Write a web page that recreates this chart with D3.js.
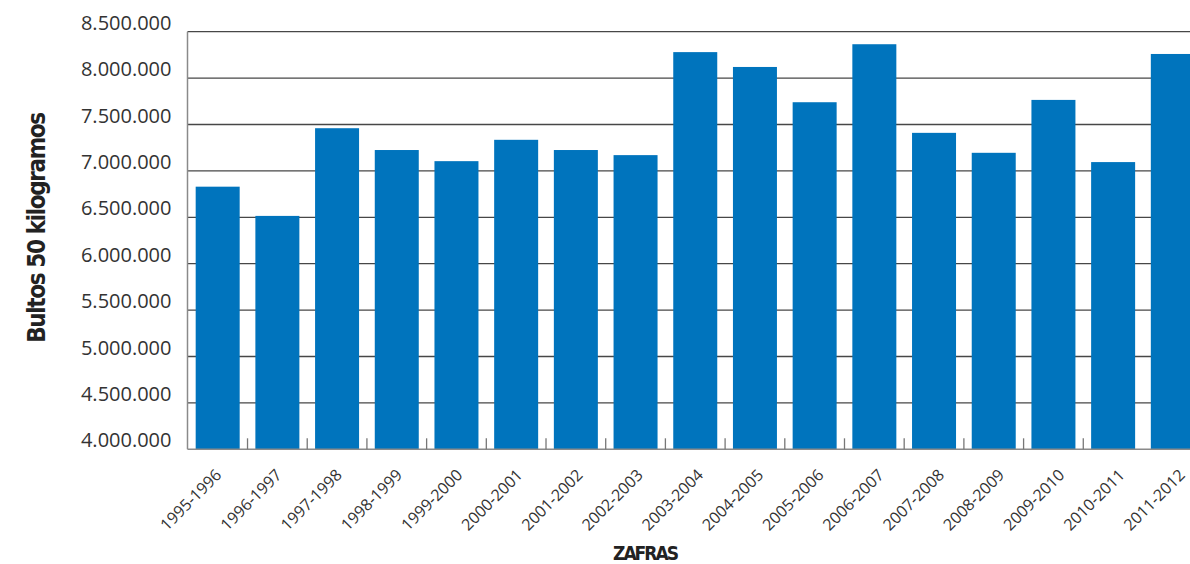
<!DOCTYPE html>
<html>
<head>
<meta charset="utf-8">
<script src="https://cdn.jsdelivr.net/npm/d3@7"></script>
<style>
  html, body { margin: 0; padding: 0; background: #fff; }
  svg { display: block; }
  .cat { font-family: 'Open Sans', sans-serif; font-size: 16px; fill: #333; }
  .ytick { font-family: 'Open Sans', sans-serif; font-size: 20px; fill: #333; }
  .title { font-family: 'Liberation Sans Narrow', 'DejaVu Sans Condensed', sans-serif; font-weight: bold; fill: #222; }
</style>
</head>
<body>
<svg id="chart" width="1190" height="564"></svg>
<script>
// Zafras (harvest seasons) and sacks of 50 kg produced in each
const categories = [
  "1995-1996", "1996-1997", "1997-1998", "1998-1999", "1999-2000",
  "2000-2001", "2001-2002", "2002-2003", "2003-2004", "2004-2005",
  "2005-2006", "2006-2007", "2007-2008", "2008-2009", "2009-2010",
  "2010-2011", "2011-2012"
];
const bultos = [
  6830000, 6515000, 7460000, 7225000, 7105000,
  7335000, 7225000, 7170000, 8280000, 8120000,
  7740000, 8365000, 7410000, 7195000, 7765000,
  7095000, 8260000
];
const yTicks = [
  4000000, 4500000, 5000000, 5500000, 6000000,
  6500000, 7000000, 7500000, 8000000, 8500000
];
const yTitle = "Bultos 50 kilogramos";
const xTitle = "ZAFRAS";

const svg = d3.select("#chart");
const W = 1190;
const plot = { left: 187.5, right: 1190, top: 31.7, bottom: 449.3 };

const es = d3.formatLocale({ decimal: ",", thousands: ".", grouping: [3], currency: ["", ""] });
const fmt = es.format(",d");

const x = d3.scaleBand()
  .domain(categories)
  .range([plot.left, 1203])
  .paddingInner(0.263)
  .paddingOuter(0.137);

const y = d3.scaleLinear()
  .domain([yTicks[0], yTicks[yTicks.length - 1]])
  .range([plot.bottom, plot.top]);

// label anchors run on a slightly wider pitch than the bars
const xLabel = d3.scalePoint()
  .domain(categories)
  .range([222.5, 1186]);

// horizontal gridlines
svg.append("g")
  .selectAll("line")
  .data(yTicks.slice(1))
  .join("line")
  .attr("x1", plot.left)
  .attr("x2", plot.right)
  .attr("y1", d => y(d))
  .attr("y2", d => y(d))
  .attr("stroke", "#474747")
  .attr("stroke-width", 1.3);

// bars
svg.append("g")
  .selectAll("rect")
  .data(categories)
  .join("rect")
  .attr("x", d => x(d))
  .attr("width", x.bandwidth())
  .attr("y", (d, i) => y(bultos[i]))
  .attr("height", (d, i) => plot.bottom - y(bultos[i]))
  .attr("fill", "#0074bd");

// axis lines
svg.append("line")
  .attr("x1", plot.left).attr("x2", plot.left)
  .attr("y1", plot.top).attr("y2", plot.bottom)
  .attr("stroke", "#8a8a8a").attr("stroke-width", 1.5);
svg.append("line")
  .attr("x1", plot.left).attr("x2", W)
  .attr("y1", plot.bottom).attr("y2", plot.bottom)
  .attr("stroke", "#8a8a8a").attr("stroke-width", 1.5);

// small upward ticks between the bars
const gapHalf = x.step() * x.paddingInner() / 2;
svg.append("g")
  .selectAll("line")
  .data(categories.slice(1, categories.length - 1))
  .join("line")
  .attr("x1", d => x(d) - gapHalf)
  .attr("x2", d => x(d) - gapHalf)
  .attr("y1", plot.bottom)
  .attr("y2", plot.bottom - 11)
  .attr("stroke", "#777")
  .attr("stroke-width", 1.3);

// y tick labels
const yAxis = d3.axisLeft(y)
  .tickValues(yTicks)
  .tickSize(0)
  .tickPadding(0)
  .tickFormat(fmt);
const gy = svg.append("g")
  .attr("transform", "translate(171.5,0)")
  .call(yAxis)
  .attr("font-family", null)
  .attr("font-size", null);
gy.select(".domain").remove();
gy.selectAll("text")
  .attr("class", "ytick")
  .attr("dy", null)
  .attr("y", -2.5);

// x category labels, rotated
svg.append("g")
  .selectAll("text")
  .data(categories)
  .join("text")
  .attr("class", "cat")
  .attr("transform", d => "translate(" + xLabel(d) + ",476) rotate(-45)")
  .attr("text-anchor", "end")
  .text(d => d);

// axis titles
svg.append("text")
  .attr("class", "title")
  .attr("transform", "translate(45,227.3) rotate(-90)")
  .attr("text-anchor", "middle")
  .style("font-size", "24px")
  .attr("textLength", 231)
  .attr("lengthAdjust", "spacing")
  .text(yTitle);

svg.append("text")
  .attr("class", "title")
  .attr("x", 646)
  .attr("y", 560)
  .attr("text-anchor", "middle")
  .style("font-size", "19px")
  .attr("textLength", 66)
  .attr("lengthAdjust", "spacing")
  .text(xTitle);
</script>
</body>
</html>
